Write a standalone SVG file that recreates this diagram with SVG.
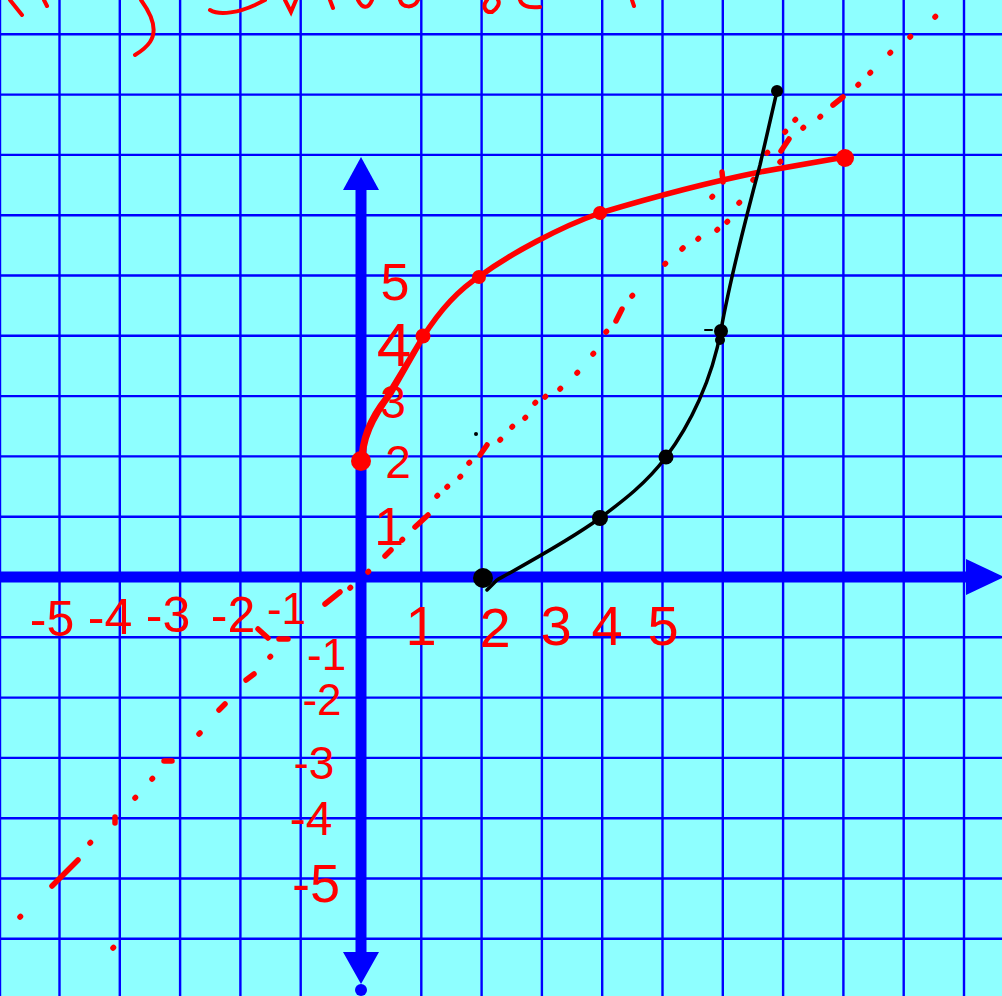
<svg xmlns="http://www.w3.org/2000/svg" width="1002" height="996" viewBox="0 0 1002 996">
<style>
.grid{stroke:#0000ff;stroke-width:2.4;fill:none}
.axis{stroke:#0000ff;stroke-width:11;fill:none}
.head{fill:#0000ff}
.red{stroke:#ff0000;stroke-width:5.5;fill:none;stroke-linecap:round;stroke-linejoin:round}
.dots{stroke:#ff0000;stroke-width:5.5;fill:none;stroke-linecap:round}
.ink{stroke:#ff0000;stroke-width:4;fill:none;stroke-linecap:round}
.blk{stroke:#000000;stroke-width:3.5;fill:none;stroke-linecap:round;stroke-linejoin:round}
.rp{fill:#ff0000}
.bp{fill:#000000}
.lbl{font-family:"Liberation Sans","DejaVu Sans",sans-serif;fill:#ff0000;text-anchor:middle}
</style>
<rect x="0" y="0" width="1002" height="996" fill="#8effff"/>
<g id="grid" class="grid">
<path d="M0,0V996M59.5,0V996M119.8,0V996M180.1,0V996M240.4,0V996M300.7,0V996M421.3,0V996M481.6,0V996M541.9,0V996M602.2,0V996M662.5,0V996M722.8,0V996M783.1,0V996M843.4,0V996M903.7,0V996M964,0V996"/>
<path d="M0,34.3H1002M0,94.6H1002M0,154.9H1002M0,215.2H1002M0,275.5H1002M0,335.8H1002M0,396.1H1002M0,456.4H1002M0,516.7H1002M0,637.3H1002M0,697.6H1002M0,757.9H1002M0,818.2H1002M0,878.5H1002M0,938.8H1002"/>
</g>
<g id="axes">
<path class="axis" d="M0,577H968"/>
<polygon class="head" points="966,559 966,595 1004,577"/>
<path class="axis" d="M361,188V954"/>
<polygon class="head" points="361,157 343,190 379,190"/>
<polygon class="head" points="343,952 379,952 361,984"/>
<circle class="head" cx="361" cy="990" r="6"/>
</g>
<g id="title-strokes" class="ink">
<path d="M10,0L22,15"/>
<path d="M44,0L47,6"/>
<path d="M141,0C152,15 158,30 150,42C146,48 140,52 135,55"/>
<path d="M210,10C220,16 240,12 255,5L265,0"/>
<path d="M285,0L291,12L296,0"/>
<path d="M330,0L333,8"/>
<path d="M358,0C362,8 368,10 372,0"/>
<path d="M400,0C402,8 414,9 418,0"/>
<path d="M487,0C482,6 485,13 492,12C498,8 500,3 498,0"/>
<path d="M520,0C522,7 530,8 540,7"/>
<path d="M632,0L634,6"/>
</g>
<g id="line-y-equals-x" class="dots">
<path d="M20,917l.5,-.5M52,886L78,860M90,843l.5,-.5M115,817L115,823M135,798l.5,-.5M152,779l.5,-.5M164,761L172,761M199,734l1,-1M219,710L225,704M246,680L254,674M270,657l.5,-.5M279,639L288,639M258,629L268,638M325,604L340,592M350,588l.5,-.5M368,572l.5,-.5M385,556L391,550M402,540l.5,-.5M415,527L428,515M437,496l.5,-.5M447,487l.5,-.5M460,477l.5,-.5M469,463l.5,-.5M480,455L487,445M500,440l.5,-.5M512,427l.5,-.5M525,418l.5,-.5M535,403l.5,-.5M545,397l.5,-.5M560,389l.5,-.5M577,373l.5,-.5M593,354l.5,-.5M606,332l.5,-.5M616,321L622,309M632,296l.5,-.5M665,264l.5,-.5M682,249l1,-1M698,239l.5,-.5M717,230l.5,-.5M727,222l.5,-.5M712,197l.5,-.5M739,203l.5,-.5M753,180l.5,-.5M767,153l.5,-.5M780,162l.5,-.5M781,151L789,139M785,132l.5,-.5M795,120l.5,-.5M803,128l.5,-.5M820,117l.5,-.5M833,105L843,97M858,85l.5,-.5M870,73l.5,-.5M890,53l.5,-.5M910,37l.5,-.5M935,17l.5,-.5M113,948l.5,-.5M722,172L723,182"/>
</g>
<g id="red-curve">
<path class="red" d="M361,463C361,440 370,418 386,398L423,337C440,310 458,290 480,276C510,254 560,227 600,213C650,198 700,184 760,172L845,157"/>
<path class="red" style="stroke-width:3" d="M364,465C363,440 374,418 392,394L420,345"/>
<circle class="rp" cx="361" cy="461" r="10"/>
<circle class="rp" cx="423" cy="336" r="7.5"/>
<circle class="rp" cx="479" cy="277" r="7"/>
<circle class="rp" cx="600" cy="213" r="7"/>
<circle class="rp" cx="845" cy="158" r="9"/>
</g>
<g id="black-curve">
<path class="blk" d="M487,590L497,580C515,570 570,540 600,518C620,503 645,485 666,457C690,425 712,380 721,330C730,280 748,210 760,165L777,91"/>
<circle class="bp" cx="483" cy="578" r="10"/>
<circle class="bp" cx="600" cy="518" r="8"/>
<circle class="bp" cx="666" cy="457" r="7.5"/>
<circle class="bp" cx="721" cy="331" r="7"/>
<circle class="bp" cx="720" cy="340" r="5"/>
<circle class="bp" cx="777" cy="91" r="6"/>
<circle class="bp" cx="476" cy="434" r="2"/>
<path class="blk" style="stroke-width:2" d="M705,330H712"/>
</g>
<g id="x-labels">
<text class="lbl" x="421" y="645" font-size="56">1</text>
<text class="lbl" x="495" y="647" font-size="56">2</text>
<text class="lbl" x="556" y="645" font-size="56">3</text>
<text class="lbl" x="607" y="645" font-size="56">4</text>
<text class="lbl" x="663" y="645" font-size="56">5</text>
<text class="lbl" x="52" y="636" font-size="50">-5</text>
<text class="lbl" x="110" y="634" font-size="50">-4</text>
<text class="lbl" x="168" y="632" font-size="50">-3</text>
<text class="lbl" x="233" y="632" font-size="50">-2</text>
<text class="lbl" x="306" y="624" font-size="44" style="text-anchor:end">-1</text>
</g>
<g id="y-labels">
<text class="lbl" x="395" y="300" font-size="52">5</text>
<text class="lbl" x="394" y="366" font-size="62">4</text>
<text class="lbl" x="393" y="418" font-size="46">3</text>
<text class="lbl" x="398" y="478" font-size="46">2</text>
<text class="lbl" x="389" y="545" font-size="54">1</text>
<text class="lbl" x="307" y="670" font-size="44" style="text-anchor:start">-1</text>
<text class="lbl" x="322" y="715" font-size="44">-2</text>
<text class="lbl" x="314" y="779" font-size="46">-3</text>
<text class="lbl" x="311" y="835" font-size="48">-4</text>
<text class="lbl" x="316" y="902" font-size="54">-5</text>
</g>
</svg>
